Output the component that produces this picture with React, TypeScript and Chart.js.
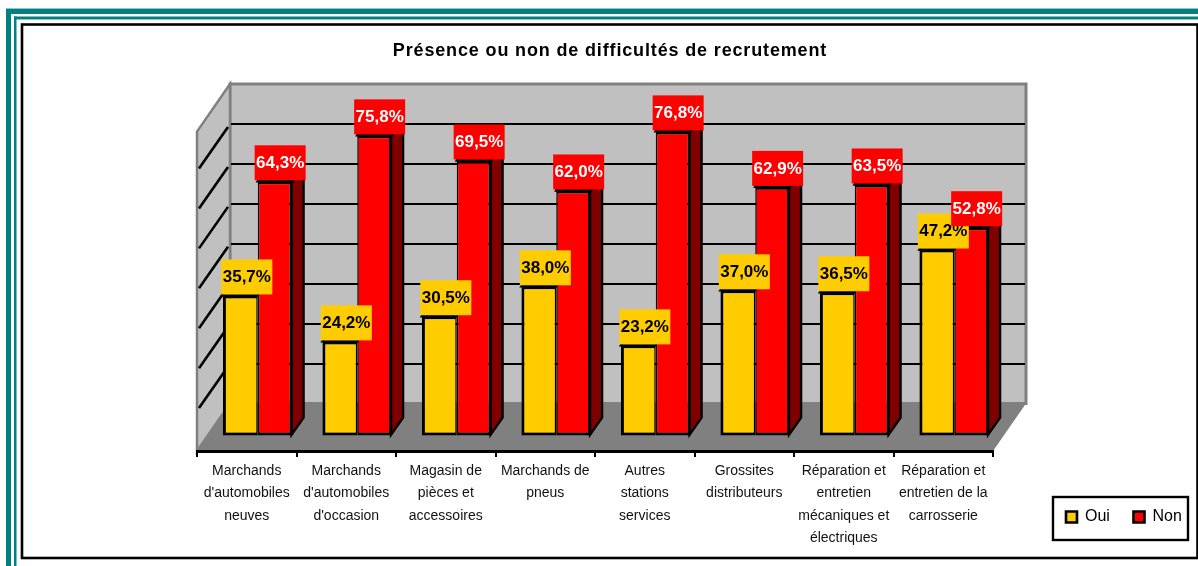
import React, { useEffect, useRef } from "react";
import { Chart, registerables } from "chart.js";

Chart.register(...registerables);

const categories: string[][] = [
  ["Marchands", "d'automobiles", "neuves"],
  ["Marchands", "d'automobiles", "d'occasion"],
  ["Magasin de", "pièces et", "accessoires"],
  ["Marchands de", "pneus"],
  ["Autres", "stations", "services"],
  ["Grossites", "distributeurs"],
  ["Réparation et", "entretien", "mécaniques et", "électriques"],
  ["Réparation et", "entretien de la", "carrosserie"],
];
const oui = [35.7, 24.2, 30.5, 38.0, 23.2, 37.0, 36.5, 47.2];
const non = [64.3, 75.8, 69.5, 62.0, 76.8, 62.9, 63.5, 52.8];
const titleText = "Présence ou non de difficultés de recrutement";

const YELLOW = "#FFCC00";
const RED = "#FF0000";
const DARK_RED = "#800000";
const DARK_YELLOW = "#806600";
const WALL = "#C0C0C0";
const FLOOR = "#808080";
const TEAL = "#008080";
const LIGHT_TEAL = "#8CC6C6";
const FONT = "'Liberation Sans', Arial, sans-serif";

const WALL_DX = 33;
const WALL_DY = -47.5;
const BAR_DX = 11;
const BAR_DY = -13;
const SIDE_DX = 11;
const SIDE_DY = -18;

function poly(ctx: CanvasRenderingContext2D, pts: number[][], fill?: string, stroke?: string, lw = 1) {
  ctx.beginPath();
  pts.forEach(([x, y], i) => (i ? ctx.lineTo(x, y) : ctx.moveTo(x, y)));
  ctx.closePath();
  if (fill) {
    ctx.fillStyle = fill;
    ctx.fill();
  }
  if (stroke) {
    ctx.strokeStyle = stroke;
    ctx.lineWidth = lw;
    ctx.lineJoin = "miter";
    ctx.stroke();
  }
}

function line(ctx: CanvasRenderingContext2D, x1: number, y1: number, x2: number, y2: number, color: string, lw: number) {
  ctx.beginPath();
  ctx.moveTo(x1, y1);
  ctx.lineTo(x2, y2);
  ctx.strokeStyle = color;
  ctx.lineWidth = lw;
  ctx.stroke();
}

const framePlugin = {
  id: "frame3d",
  afterLayout(chart: any) {
    const t = chart.titleBlock;
    t.left += 15;
    t.right += 15;
    t.top = 40;
    t.bottom = 62;
    if (!t._spaced) {
      t._spaced = true;
      const draw = t.draw.bind(t);
      t.draw = () => {
        const ctx: any = chart.ctx;
        ctx.save();
        ctx.letterSpacing = "0.85px";
        draw();
        ctx.restore();
      };
    }
    const l = chart.legend;
    l.left = 1042.4;
    l.right = 1400;
    l.top = 485.4;
    l.bottom = 550;
  },
  beforeDraw(chart: any) {
    const ctx: CanvasRenderingContext2D = chart.ctx;
    const { width: W, height: H } = chart;
    ctx.save();
    // page frame
    ctx.fillStyle = "#FFFFFF";
    ctx.fillRect(0, 0, W, H);
    ctx.fillStyle = LIGHT_TEAL;
    ctx.fillRect(6, 8, W - 6, 1);
    ctx.fillRect(14, 19, W - 14, 1);
    ctx.fillStyle = TEAL;
    ctx.fillRect(6, 9, W - 6, 5);
    ctx.fillRect(6, 9, 5, H - 9);
    ctx.fillRect(14, 16.5, W - 14, 2.5);
    ctx.fillRect(14, 16.5, 2.5, H - 16.5);
    ctx.strokeStyle = "#000000";
    ctx.lineWidth = 2.6;
    ctx.strokeRect(22, 24.5, 1175.5, 533.5);
    // legend frame
    ctx.lineWidth = 2.4;
    ctx.strokeRect(1053, 497, 135, 43);

    const { left, right } = chart.chartArea;
    const y = chart.scales.y;
    const y0 = y.getPixelForValue(0);
    const yMax = y.getPixelForValue(y.max);
    // back wall
    poly(ctx, [
      [left + WALL_DX, yMax + WALL_DY],
      [right + WALL_DX, yMax + WALL_DY],
      [right + WALL_DX, y0 + WALL_DY],
      [left + WALL_DX, y0 + WALL_DY],
    ], WALL, FLOOR, 3);
    // side wall
    poly(ctx, [
      [left, yMax],
      [left + WALL_DX, yMax + WALL_DY],
      [left + WALL_DX, y0 + WALL_DY],
      [left, y0],
    ], WALL, FLOOR, 2.5);
    // floor
    poly(ctx, [
      [left, y0],
      [left + WALL_DX, y0 + WALL_DY],
      [right + WALL_DX, y0 + WALL_DY],
      [right, y0],
    ], FLOOR);
    // grid lines
    for (const tick of y.ticks) {
      if (tick.value <= y.min || tick.value >= y.max) continue;
      const py = y.getPixelForValue(tick.value);
      const backY = Math.round(py + WALL_DY);
      line(ctx, left + WALL_DX + 1, backY, right + WALL_DX - 1, backY, "#000000", 2);
      line(ctx, left + 2, py - 3, left + WALL_DX - 2, py + WALL_DY + 3, "#000000", 2.6);
    }
    ctx.restore();
  },
  beforeDatasetsDraw(chart: any) {
    const ctx: CanvasRenderingContext2D = chart.ctx;
    ctx.save();
    ctx.translate(BAR_DX, BAR_DY);
    const colours = [
      { top: DARK_YELLOW, side: DARK_YELLOW },
      { top: RED, side: DARK_RED },
    ];
    chart.data.datasets.forEach((_: any, d: number) => {
      chart.getDatasetMeta(d).data.forEach((el: any) => {
        const { x, y, base, width } = el.getProps(["x", "y", "base", "width"]);
        const l = x - width / 2;
        const r = x + width / 2;
        if (d === 1) {
          poly(ctx, [
            [r - 1, y],
            [r + SIDE_DX, y + SIDE_DY],
            [r + SIDE_DX, base + SIDE_DY],
            [r - 1, base - 1],
          ], colours[d].side, "#000000", 2.4);
        }
        poly(ctx, [
          [l, y],
          [l + SIDE_DX, y + SIDE_DY],
          [r + SIDE_DX, y + SIDE_DY],
          [r, y],
        ], colours[d].top, "#000000", 2.4);
      });
    });
  },
  afterDatasetsDraw(chart: any) {
    const ctx: CanvasRenderingContext2D = chart.ctx;
    ctx.restore();
    ctx.save();
    ctx.font = `bold 17px ${FONT}`;
    ctx.textAlign = "center";
    ctx.textBaseline = "middle";
    const styles = [
      { bg: YELLOW, fg: "#000000", off: 6.5 },
      { bg: RED, fg: "#FFFFFF", off: 5 },
    ];
    chart.data.datasets.forEach((ds: any, d: number) => {
      chart.getDatasetMeta(d).data.forEach((el: any, i: number) => {
        const { x, y } = el.getProps(["x", "y"]);
        const cx = x + BAR_DX + styles[d].off;
        const bottom = y + BAR_DY - 1;
        ctx.fillStyle = styles[d].bg;
        ctx.fillRect(cx - 25.5, bottom - 35, 51, 35);
        ctx.fillStyle = styles[d].fg;
        ctx.fillText(ds.data[i].toFixed(1).replace(".", ",") + "%", cx, bottom - 17);
      });
    });
    ctx.restore();
  },
};

export default function App() {
  const ref = useRef<HTMLCanvasElement>(null);
  useEffect(() => {
    if (!ref.current) return;
    Chart.defaults.font.family = FONT;
    const chart = new Chart(ref.current, {
      type: "bar",
      data: {
        labels: categories,
        datasets: [
          { label: "Oui", data: oui, backgroundColor: YELLOW, borderColor: "#000000", borderWidth: { top: 3, left: 3, bottom: 3, right: 1.5 }, borderSkipped: false, base: 0.6, clip: false },
          { label: "Non", data: non, backgroundColor: RED, borderColor: "#000000", borderWidth: { top: 3, left: 1.5, bottom: 3, right: 3 }, borderSkipped: false, base: 0.6, clip: false },
        ] as any,
      },
      options: {
        responsive: false,
        animation: false,
        events: [],
        layout: { padding: { left: 197, right: 205, top: 60, bottom: 0 } },
        datasets: { bar: { barPercentage: 1, categoryPercentage: 0.7 } },
        scales: {
          x: {
            afterFit: (s: any) => {
              s.height = 115;
            },
            border: { display: true, color: "#000000", width: 3 },
            grid: { drawOnChartArea: false, drawTicks: true, tickLength: 6, color: "#000000", lineWidth: 2, offset: true },
            ticks: {
              autoSkip: false,
              maxRotation: 0,
              minRotation: 0,
              padding: 3,
              color: "#111111",
              font: { size: 14, lineHeight: 1.6 },
            },
          },
          y: { display: false, min: 0, max: 80, ticks: { stepSize: 10 } },
        },
        plugins: {
          title: {
            display: true,
            text: titleText,
            color: "#000000",
            padding: 0,
            font: { size: 18, weight: "bold", lineHeight: "22px" },
          },
          legend: {
            display: true,
            position: "top",
            align: "start",
            labels: {
              boxWidth: 11,
              boxHeight: 11,
              padding: 23.6,
              color: "#000000",
              font: { size: 16, lineHeight: "20px" },
            },
          },
          tooltip: { enabled: false },
        },
      } as any,
      plugins: [framePlugin],
    });
    return () => chart.destroy();
  }, []);
  return (
    <div style={{ position: "fixed", left: 0, top: 0 }}>
      <canvas ref={ref} width={1198} height={566} style={{ display: "block" }} />
    </div>
  );
}
